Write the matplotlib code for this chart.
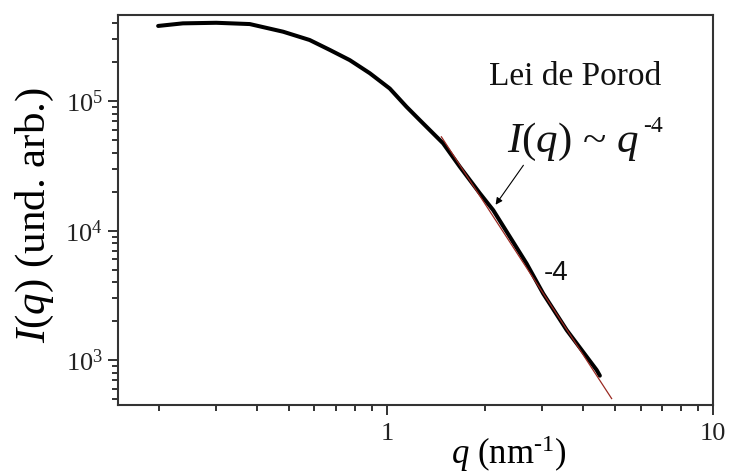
import math
import matplotlib
matplotlib.use("Agg")
import matplotlib.pyplot as plt
from matplotlib.ticker import LogLocator, FixedLocator, NullFormatter, FuncFormatter

plt.rcParams['font.family'] = ['Liberation Serif', 'DejaVu Serif']
plt.rcParams['mathtext.fontset'] = 'custom'
plt.rcParams['mathtext.rm'] = 'Liberation Serif'
plt.rcParams['mathtext.it'] = 'Liberation Serif:italic'

# SAXS data
q_data = [0.199, 0.237, 0.300, 0.380, 0.481, 0.580, 0.669, 0.770, 0.887, 1.021,
          1.149, 1.262, 1.488, 1.675, 1.929, 2.119, 2.384, 2.682, 3.016, 3.56,
          4.40, 4.50]
I_data = [3.80e5, 3.98e5, 4.02e5, 3.93e5, 3.43e5, 2.96e5, 2.48e5, 2.07e5, 1.64e5, 1.25e5,
          9.04e4, 7.13e4, 4.72e4, 3.11e4, 1.94e4, 1.44e4, 8.96e3, 5.58e3, 3.27e3, 1.71e3,
          840, 760]

# Porod fit line endpoints
q_fit = [1.47, 4.89]
I_fit = [5.3e4, 506]

fig = plt.figure(figsize=(7.29, 4.75), dpi=100)
ax = fig.add_axes([0.162, 0.147, 0.816, 0.821])

ax.plot(q_data, I_data, color='black', lw=2.9, solid_capstyle='round',
        solid_joinstyle='round', zorder=2)
ax.plot(q_fit, I_fit, color='#9a2a22', lw=0.9, zorder=3)

ax.set_xscale('log')
ax.set_yscale('log')
ax.set_xlim(0.15, 10)
ax.set_ylim(450, 4.6e5)

ax.xaxis.set_major_locator(FixedLocator([1, 10]))
ax.xaxis.set_minor_locator(LogLocator(base=10, subs=[2, 3, 4, 5, 6, 7, 8, 9]))
ax.xaxis.set_major_formatter(FuncFormatter(lambda v, p: f"{v:g}"))
ax.xaxis.set_minor_formatter(NullFormatter())

ax.yaxis.set_major_locator(FixedLocator([1e3, 1e4, 1e5]))
ax.yaxis.set_minor_locator(LogLocator(base=10, subs=[2, 3, 4, 5, 6, 7, 8, 9]))
ax.yaxis.set_major_formatter(FuncFormatter(lambda v, p: r'$\mathregular{10^{%d}}$' % round(math.log10(v))))
ax.yaxis.set_minor_formatter(NullFormatter())

ax.tick_params(which='both', direction='out', top=False, right=False, colors='#222222', width=1.3)
ax.tick_params(which='major', length=7, labelsize=19)
ax.tick_params(axis='x', which='major', pad=6)
ax.tick_params(axis='y', which='major', pad=4)
ax.tick_params(which='minor', length=4.5)
for s in ax.spines.values():
    s.set_linewidth(1.5)
    s.set_color('#333333')

ax.set_xlabel(r'$q$ (nm$^{\text{-1}}$)', fontsize=25, va='center')
ax.xaxis.set_label_coords(0.657, -0.124)
ax.set_ylabel(r'$I(q)$ (und. arb.)', fontsize=31, va='center')
ax.yaxis.set_label_coords(-0.139, 0.487)

ax.text(0.768, 0.841, 'Lei de Porod', transform=ax.transAxes, fontsize=24,
        ha='center', va='center', color='#111111')
ax.text(0.654, 0.649, r'$I(q)$ ~ $q$', transform=ax.transAxes, fontsize=31,
        ha='left', va='baseline', color='#111111')
ax.text(0.883, 0.700, '-4', transform=ax.transAxes, fontsize=17,
        ha='left', va='baseline', color='#111111')
ax.text(0.736, 0.338, '-4', transform=ax.transAxes, fontsize=20,
        family=['Liberation Sans', 'DejaVu Sans'], ha='center', va='center', color='#111111')

ax.annotate('', xy=(494, 268), xytext=(525, 312), xycoords='figure pixels', textcoords='figure pixels',
            arrowprops=dict(arrowstyle='-|>', color='black', lw=0.8, mutation_scale=10))

fig.savefig('out.png', dpi=100)
